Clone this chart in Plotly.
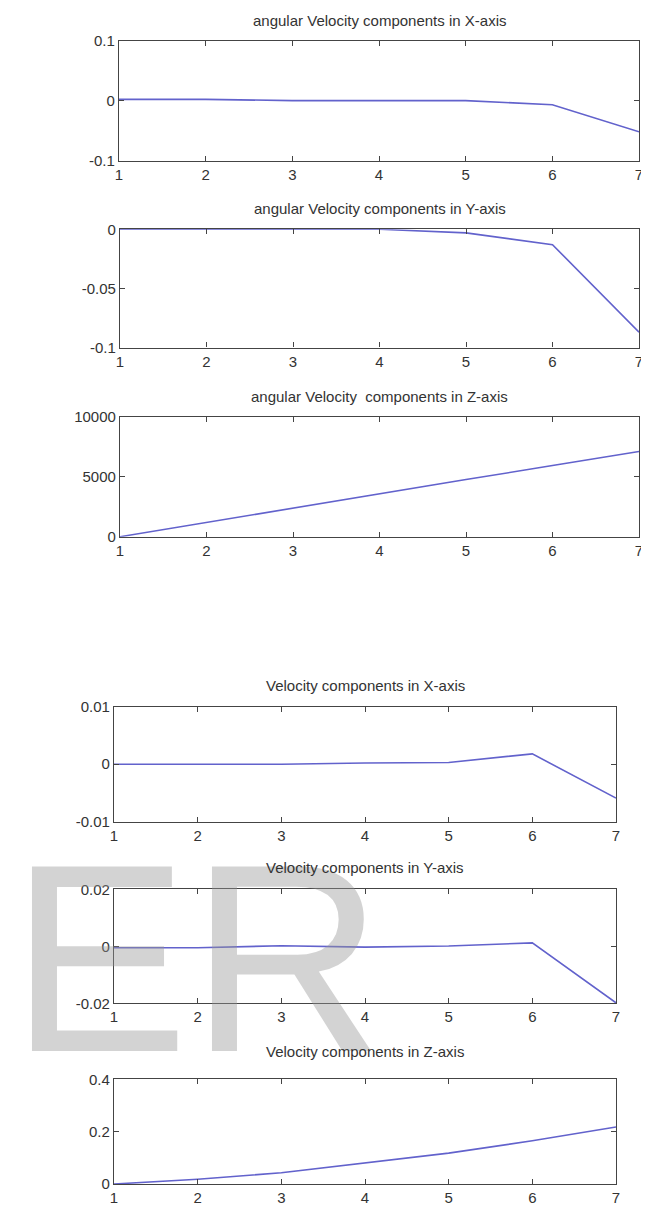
import plotly.graph_objects as go

# page is drawn with an 8px body margin at top-left; figure fills the rest
OFF = 8
W, H = 649 - OFF, 1209 - OFF

x_vals = [1, 2, 3, 4, 5, 6, 7]

titles = [
    "angular Velocity components in X-axis",
    "angular Velocity components in Y-axis",
    "angular Velocity  components in Z-axis",
    "Velocity components in X-axis",
    "Velocity components in Y-axis",
    "Velocity components in Z-axis",
]

ang_x = [0.002, 0.002, 0.0, 0.0, 0.0, -0.007, -0.052]
ang_y = [0.0, 0.0, 0.0, 0.0, -0.003, -0.013, -0.087]
ang_z = [0, 1200, 2380, 3580, 4760, 5930, 7100]
vel_x = [0.0, 0.0, 0.0, 0.0002, 0.0003, 0.0018, -0.0059]
vel_y = [-0.0005, -0.0005, 0.0002, -0.0003, 0.0001, 0.0012, -0.0198]
vel_z = [0.0, 0.018, 0.043, 0.08, 0.118, 0.165, 0.218]

series = [ang_x, ang_y, ang_z, vel_x, vel_y, vel_z]

y_ranges = [[-0.1, 0.1], [-0.1, 0.0], [0, 10000], [-0.01, 0.01], [-0.02, 0.02], [0, 0.4]]
y_ticks = [[-0.1, 0, 0.1], [-0.1, -0.05, 0], [0, 5000, 10000],
           [-0.01, 0, 0.01], [-0.02, 0, 0.02], [0, 0.2, 0.4]]
y_ticktext = [["-0.1", "0", "0.1"], ["-0.1", "-0.05", "0"], ["0", "5000", "10000"],
              ["-0.01", "0", "0.01"], ["-0.02", "0", "0.02"], ["0", "0.2", "0.4"]]
x_ticks = [1, 2, 3, 4, 5, 6, 7]

watermark = ["E", "R"]


def px_x(p):
    return (p - OFF) / W


def px_y(p):
    return 1 - (p - OFF) / H


# pixel boxes in the final picture (left, right, top, bottom)
boxes = [
    (119, 639, 40.5, 160.7),
    (120, 639, 229.3, 347.5),
    (120, 639, 416.7, 536.7),
    (114, 616, 706.7, 821.7),
    (114, 616, 889.3, 1003.3),
    (114, 616, 1079.3, 1184),
]
title_gap = [20, 21, 20, 21, 22, 28]

FONT = "Liberation Sans Narrow, Liberation Sans, Arial"
AXC = "#444444"
LINEC = "#6262cc"

fig = go.Figure()
layout = dict(
    width=W, height=H, margin=dict(l=0, r=0, t=0, b=0, pad=0, autoexpand=False),
    paper_bgcolor="white", plot_bgcolor="white", showlegend=False,
    annotations=[],
)

# watermark (semi-transparent)
for txt, px in zip(watermark, [8, 188]):
    layout["annotations"].append(dict(
        text=txt, xref="paper", yref="paper", x=px_x(px), y=px_y(958),
        xanchor="left", yanchor="middle", showarrow=False,
        font=dict(family="Liberation Sans, Arial", size=268, color="rgba(150,150,150,0.42)")))

for i, (ys, title, yr, yt, ytt, box) in enumerate(zip(series, titles, y_ranges, y_ticks, y_ticktext, boxes)):
    n = "" if i == 0 else str(i + 1)
    l, r, t, b = box
    fig.add_trace(go.Scatter(x=x_vals, y=ys, mode="lines",
                             line=dict(color=LINEC, width=1.6),
                             xaxis="x" + n, yaxis="y" + n))
    common = dict(showgrid=False, zeroline=False, showline=True, mirror="ticks",
                  linecolor=AXC, linewidth=1.2, ticks="inside", ticklen=5,
                  tickcolor=AXC, tickwidth=1, automargin=False,
                  tickfont=dict(family=FONT, size=15, color="#333333"))
    layout["xaxis" + n] = dict(common, domain=[px_x(l), px_x(r)], range=[1, 7],
                               tickvals=x_ticks, anchor="y" + n)
    layout["yaxis" + n] = dict(common, domain=[px_y(b), px_y(t)], range=yr,
                               tickvals=yt, ticktext=ytt, anchor="x" + n)
    layout["annotations"].append(dict(
        text=title, xref="paper", yref="paper", x=px_x((l + r) / 2),
        y=px_y(t - title_gap[i]),
        xanchor="center", yanchor="middle", showarrow=False,
        font=dict(family=FONT, size=15, color="#333333")))

fig.update_layout(**layout)
fig.write_html("out.html")
